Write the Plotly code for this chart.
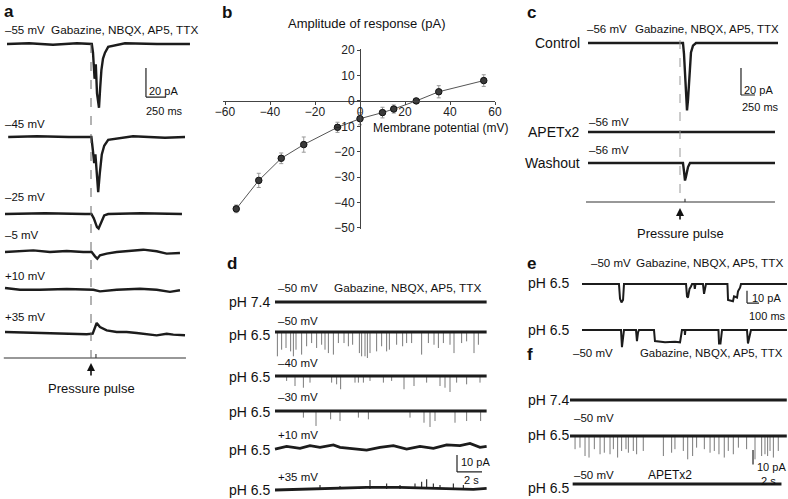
import plotly.graph_objects as go

W, H = 788, 499
FONT = "Arial, 'Liberation Sans', Helvetica, sans-serif"

# ---------------- Panel b : I-V relation ----------------
iv_potential = [-55, -45, -35, -25, -10, 0, 10, 15, 25, 35, 55]
iv_amplitude = [-42.5, -31.3, -22.6, -17.2, -10.4, -7.0, -4.6, -3.2, 0.0, 3.6, 8.0]
iv_sem = [1.5, 2.8, 2.1, 3.0, 2.0, 2.4, 2.1, 1.6, 0.6, 2.4, 2.3]
iv_xticks = [-60, -40, -20, 0, 20, 40, 60]
iv_yticks = [20, 10, 0, -10, -20, -30, -40, -50]

# ---------------- Panel a : responses (t in ms, I in pA) ----------------
a_labels = ["–55 mV", "–45 mV", "–25 mV", "–5 mV", "+10 mV", "+35 mV"]
a1_t = [25, 300, 600, 900, 1085, 1100, 1120, 1135, 1150, 1175, 1190, 1205, 1225, 1250, 1290, 1500, 1900, 2312]
a1_i = [0, 0.5, -0.5, 0.5, 0, -6, -24, -14, -34, -44, -30, -18, -10, -6, -2, 0.5, 0, 0]
a2_t = [40, 400, 800, 1080, 1100, 1115, 1130, 1150, 1165, 1185, 1210, 1240, 1290, 1600, 2000, 2250]
a2_i = [0, 0.5, 0, 0, -10, -18, -12, -28, -38, -25, -12, -6, -2, 0.5, -0.5, 0]
a3_t = [0, 500, 1000, 1080, 1110, 1150, 1170, 1210, 1240, 1290, 1700, 2212]
a3_i = [0, 0.5, 0, 0, -3, -9, -10, -5, -1, 0, 0.5, 0]
a4_t = [0, 187, 354, 562, 771, 979, 1083, 1125, 1154, 1187, 1271, 1396, 1604, 1729, 1896, 2021, 2187]
a4_i = [0, 0.5, 1.1, 0, 0.7, 0, 0, -3, -4.6, -2.3, -1.1, 0, 1.1, 1.6, 0.5, -1.1, -0.7]
a5_t = [0, 187, 437, 771, 1104, 1187, 1396, 1687, 1896, 2062, 2187]
a5_i = [0.7, -0.5, -0.5, 0, -0.5, -1.6, -0.5, 0.2, -0.5, -2, -0.9]
a6_t = [0, 354, 771, 1021, 1096, 1146, 1187, 1271, 1396, 1521, 1646, 1771, 1896, 2021, 2104, 2250]
a6_i = [0.7, 0, -0.5, -0.9, -0.5, 6.9, 4.1, 1.8, 0.7, 0.7, 0, -0.9, -1.6, -0.5, -1.1, -1.6]
a_pulse_ms = 1075
a_stim_ms = 1137
a_stim_end_ms = 2262

# ---------------- Panel c ----------------
c_labels = ["Control", "APETx2", "Washout"]
c1_t = [0, 1696, 1714, 1732, 1750, 1768, 1786, 1804, 1821, 1839, 1875, 1929, 3393]
c1_i = [0, 0, -8, -20, -35, -50, -42, -28, -15, -7, -2, 0, 0]
c2_t = [0, 3339]
c2_i = [0, 0]
c3_t = [0, 1696, 1714, 1732, 1750, 1786, 1821, 3339]
c3_i = [0, 0, -6, -13, -10, -3, 0, 0]
c_pulse_ms = 1643
c_stim_ms = 1732
c_stim_end_ms = 3339

# ---------------- Panel d (t in s, I in pA) ----------------
d_voltages = ["–50 mV", "–50 mV", "–40 mV", "–30 mV", "+10 mV", "+35 mV"]
d_ph = ["pH 7.4", "pH 6.5", "pH 6.5", "pH 6.5", "pH 6.5", "pH 6.5"]
d_end_s = 16.93
d2_spike_s = [0.19, 0.53, 0.88, 1.25, 1.47, 1.68, 2.13, 2.53, 2.93, 3.33, 3.73, 4.0, 4.27, 4.67,
              5.07, 5.52, 5.87, 6.21, 6.75, 6.93, 7.2, 7.39, 7.6, 8.13, 8.53, 8.93, 9.15, 9.73,
              10.21, 10.53, 10.93, 11.73, 12.27, 12.72, 13.07, 13.47, 14.0, 14.32, 14.93, 15.33,
              15.92, 16.27]
d2_spike_pa = [14.3, 10.4, 9.4, 11.4, 14.3, 10.4, 13.3, 8.4, 6.5, 9.4, 7.5, 10.4, 12.4, 13.3,
               6.5, 6.5, 8.4, 7.5, 12.4, 14.3, 14.3, 15.3, 12.4, 11.4, 8.4, 11.4, 10.4, 7.5,
               8.4, 6.5, 6.5, 13.3, 6.5, 7.5, 9.4, 6.5, 7.5, 12.4, 6.5, 5.5, 12.4, 7.5]
d3_spike_s = [0.93, 1.6, 2.27, 2.8, 4.53, 4.93, 5.25, 6.4, 6.67, 7.07, 7.6, 8.67, 9.33, 10.32,
              11.12, 12.13, 13.2, 13.6, 14.0, 14.53, 15.33, 16.4]
d3_spike_pa = [2.9, 5.9, 6.9, 3.9, 3.9, 4.9, 7.8, 3.9, 3.9, 3.9, 2.9, 3.9, 2.9, 7.8, 5.9, 3.9,
               5.9, 6.9, 9.4, 3.9, 4.9, 3.9]
d4_spike_s = [2.27, 3.28, 4.45, 5.2, 6.67, 7.47, 10.8, 11.92, 12.4, 12.8, 14.4, 15.33, 16.45]
d4_spike_pa = [3.9, 8.8, 4.9, 5.9, 3.9, 4.9, 3.9, 6.9, 9.4, 5.9, 6.9, 5.9, 5.9]
d5_t = [0, 0.93, 2.0, 2.8, 3.6, 4.67, 5.2, 6.27, 7.33, 8.4, 9.47, 10.53, 11.6, 12.67, 13.73,
        14.8, 15.6, 16.4, 16.93]
d5_i = [-0.6, 1.0, -0.2, 1.4, 0.4, 1.8, 0.4, -0.2, -1.2, 0.4, 1.4, -0.6, 1.0, -0.2, 1.8, 1.4,
        2.7, 0.4, 1.0]
d6_t = [0, 4.67, 7.33, 10.0, 12.67, 15.87, 16.93]
d6_i = [-0.6, 0.4, 1.0, 1.0, 0.4, -0.2, 0.4]
d6_event_s = [3.6, 5.2, 7.6, 8.93, 10.0, 11.2, 11.73, 12.13, 12.67, 13.2, 14.27, 15.07]
d6_event_pa = [2.4, 1.8, 5.3, 3.3, 2.4, 3.3, 4.3, 5.7, 3.3, 2.4, 3.3, 2.4]

# ---------------- Panel e (t in ms) ----------------
e1_t = [0, 308, 317, 329, 342, 350, 867, 875, 883, 896, 908, 917, 935, 940, 946, 1008, 1017,
        1025, 1033, 1212, 1217, 1258, 1267, 1292, 1300, 1317, 1325, 1708]
e1_i = [0, 0, -12, -15, -13, 0, 0, -10, -11, -4, -2, 0, 0, -4, 0, 0, -8, -3, 0, 0, -13, -14,
        -10, -11, -6, -3, 0, 0]
e2_t = [0, 325, 333, 342, 350, 450, 458, 467, 475, 600, 608, 692, 775, 817, 825, 833, 855, 858,
        862, 1137, 1142, 1154, 1167, 1375, 1383, 1396, 1408, 1708]
e2_i = [0, 0, -14, -8, 0, 0, -9, -2, 0, 0, -9, -10, -9.5, -10, -2, 0, 0, -4, 0, 0, -11, -11, 0,
        0, -11, -6, 0, 0]

# ---------------- Panel f (t in s) ----------------
f_end_s = 16.3
f2_spike_s = [0.38, 0.75, 1.13, 1.43, 1.83, 2.26, 2.58, 3.01, 3.26, 3.58, 3.88, 4.21, 4.39, 4.76,
              5.01, 5.51, 7.02, 7.64, 7.89, 8.52, 8.85, 9.22, 9.52, 10.1, 10.53, 10.85, 11.2,
              11.6, 11.9, 12.28, 12.66, 13.28, 13.91, 14.41, 14.66, 14.86, 15.04, 15.29, 15.66]
f2_spike_pa = [6.0, 5.3, 9.1, 9.8, 6.0, 8.3, 7.6, 8.3, 6.0, 9.8, 6.8, 6.0, 7.6, 6.8, 8.3, 6.8,
               9.1, 7.6, 6.0, 6.8, 10.6, 9.1, 5.3, 6.0, 7.6, 6.8, 8.3, 9.8, 6.8, 8.3, 5.3, 6.0,
               10.6, 9.1, 8.3, 9.1, 6.8, 9.8, 6.8]

DRUGS = "Gabazine, NBQX, AP5, TTX"

# ======================================================================
fig = go.Figure()
layout = {}
shapes = []
annotations = []
n_axes = [1]

TRACE_COLOR = "#1c1c1c"
SPIKE_COLOR = "#7a7a7a"


def px(x):
    return min(max(x / W, 0.0), 1.0)


def py(y):
    return min(max(1 - y / H, 0.0), 1.0)


def new_axes(origin, ppt, t_range, ybase, ppu, lo, hi):
    """A hidden axis pair: t=0 at x-pixel `origin`, I=0 at y-pixel `ybase`."""
    n_axes[0] += 1
    n = n_axes[0]
    t0, t1 = t_range
    t0 = max(t0, -origin / ppt)
    t1 = min(t1, (W - origin) / ppt)
    lo = max(lo, -(H - ybase) / ppu)
    hi = min(hi, ybase / ppu)
    x0 = origin + t0 * ppt
    x1 = origin + t1 * ppt
    layout[f"xaxis{n}"] = dict(domain=[px(x0), px(x1)], range=[t0, t1], visible=False,
                               anchor=f"y{n}", fixedrange=True)
    layout[f"yaxis{n}"] = dict(domain=[py(ybase - lo * ppu), py(ybase - hi * ppu)],
                               range=[lo, hi], visible=False, anchor=f"x{n}", fixedrange=True)
    return f"x{n}", f"y{n}"


def line(xr, yr, t, i, width=2.6, color=TRACE_COLOR):
    fig.add_trace(go.Scatter(x=t, y=i, xaxis=xr, yaxis=yr, mode="lines",
                             line=dict(color=color, width=width), hoverinfo="skip"))


def spikes(xr, yr, times, amps, sign=-1, color=SPIKE_COLOR, width=1):
    xs, ys = [], []
    for t, a in zip(times, amps):
        xs += [t, t, None]
        ys += [0, sign * a, None]
    fig.add_trace(go.Scatter(x=xs, y=ys, xaxis=xr, yaxis=yr, mode="lines",
                             line=dict(color=color, width=width), hoverinfo="skip"))


def text(x, y, s, size=12, anchor="left", bold=False, color="#111"):
    annotations.append(dict(x=px(x), y=py(y), xref="paper", yref="paper",
                            text=f"<b>{s}</b>" if bold else s, showarrow=False,
                            xanchor=anchor, yanchor="middle", borderpad=0,
                            font=dict(size=size, color=color, family=FONT)))


def scalebar(xr, yr, t0, i0, dt, di):
    st = dict(color="#222", width=1.2)
    shapes.append(dict(type="line", xref=xr, yref=yr, x0=t0, x1=t0, y0=i0, y1=i0 + di, line=st))
    shapes.append(dict(type="line", xref=xr, yref=yr, x0=t0, x1=t0 + dt, y0=i0, y1=i0, line=st))


def pulse_marker(xr, t, ytop, ybot, color, arrow_y0, arrow_y1, label_y):
    shapes.append(dict(type="line", xref=xr, yref="paper", x0=t, x1=t, y0=py(ytop), y1=py(ybot),
                       line=dict(color=color, width=1, dash="dash")))
    annotations.append(dict(x=t, y=py(arrow_y1), xref=xr, yref="paper", ax=0,
                            ay=arrow_y0 - arrow_y1, showarrow=True, arrowhead=2, arrowsize=1,
                            arrowwidth=1.6, arrowcolor="#111", text=""))
    annotations.append(dict(x=t, y=py(label_y), xref=xr, yref="paper", text="Pressure pulse",
                            showarrow=False, xanchor="center", yanchor="middle",
                            font=dict(size=13, color="#111", family=FONT)))


# ---------------- Panel a ----------------
A_ORIGIN, A_PPT, A_PPU = 5, 0.08, 1.45
A_ROWS = [44, 137, 214, 252, 289, 333]
a_data = [(a1_t, a1_i), (a2_t, a2_i), (a3_t, a3_i), (a4_t, a4_i), (a5_t, a5_i), (a6_t, a6_i)]
a_axes = []
for yb, (t, i) in zip(A_ROWS, a_data):
    xr, yr = new_axes(A_ORIGIN, A_PPT, (-40, 2400), yb, A_PPU, -50, 12)
    a_axes.append((xr, yr))
    line(xr, yr, t, i, width=2.4)
# stimulus line
xr, yr = new_axes(A_ORIGIN, A_PPT, (-40, 2400), 358, 4, -2, 2)
line(xr, yr, [-15, a_stim_ms, a_stim_ms, a_stim_ms, a_stim_end_ms], [0, 0, 1, 0, 0],
     width=1.1, color="#333")
pulse_marker(a_axes[0][0], a_pulse_ms, 44, 358, "#666", 377, 363, 388)
scalebar(a_axes[0][0], a_axes[0][1], 1762, -36.6, 250, 20)
text(3, 11, "a", size=17, bold=True)
text(4, 30, a_labels[0], size=11.5)
text(50, 30, DRUGS, size=11.8)
text(148, 91, "20 pA", size=11)
text(145, 111, "250 ms", size=11)
for lab, yl in zip(a_labels[1:], [124, 197, 235, 276, 317]):
    text(4, yl, lab, size=11.5)

# ---------------- Panel b ----------------
fig.add_trace(go.Scatter(
    x=iv_potential, y=iv_amplitude, mode="lines+markers",
    line=dict(color="#555", width=1),
    marker=dict(size=6.5, color="#3a3a3a", line=dict(color="#111", width=1)),
    error_y=dict(type="data", array=iv_sem, color="#999", thickness=1, width=2),
    hoverinfo="skip"))
B_X0PX, B_PPX = 360, 2.25
B_Y0PX, B_PPY = 100.9, 2.54
xr_b = (-61, 60)
yr_b = (-50.5, 20.5)
layout["xaxis"] = dict(domain=[px(B_X0PX + xr_b[0] * B_PPX), px(B_X0PX + xr_b[1] * B_PPX)],
                       range=list(xr_b), anchor="free", position=py(B_Y0PX),
                       showline=True, linecolor="#444", linewidth=1.4, ticks="outside",
                       ticklen=3, tickcolor="#444", tickvals=iv_xticks, showgrid=False,
                       zeroline=False, tickfont=dict(size=12, color="#222", family=FONT),
                       ticklabelstandoff=-4, fixedrange=True)
layout["yaxis"] = dict(domain=[py(B_Y0PX - yr_b[0] * B_PPY), py(B_Y0PX - yr_b[1] * B_PPY)],
                       range=list(yr_b), anchor="free", position=px(B_X0PX),
                       showline=True, linecolor="#444", linewidth=1.4, ticks="outside",
                       ticklen=3, tickcolor="#444", tickvals=iv_yticks, showgrid=False,
                       zeroline=False, tickfont=dict(size=12, color="#222", family=FONT),
                       fixedrange=True)
text(221, 12, "b", size=17, bold=True)
text(367, 23, "Amplitude of response (pA)", size=13, anchor="center")
text(440, 128, "Membrane potential (mV)", size=12, anchor="center")

# ---------------- Panel c ----------------
C_ORIGIN, C_PPT, C_PPU = 588, 0.056, 1.35
C_ROWS = [43, 132, 163]
c_axes = []
for yb, (t, i) in zip(C_ROWS, [(c1_t, c1_i), (c2_t, c2_i), (c3_t, c3_i)]):
    xr, yr = new_axes(C_ORIGIN, C_PPT, (-60, 3420), yb, C_PPU, -55, 10)
    c_axes.append((xr, yr))
    line(xr, yr, t, i, width=2.4)
xr, yr = new_axes(C_ORIGIN, C_PPT, (-60, 3420), 202, 4, -2, 2)
line(xr, yr, [-36, c_stim_ms, c_stim_ms, c_stim_ms, c_stim_end_ms], [0, 0, 0.8, 0, 0],
     width=1.1, color="#333")
pulse_marker(c_axes[0][0], c_pulse_ms, 40, 202, "#999", 221, 208, 233)
scalebar(c_axes[0][0], c_axes[0][1], 2732, -38.5, 250, 20)
text(526, 12, "c", size=17, bold=True)
text(586, 29, "–56 mV", size=11.5)
text(634, 29, DRUGS, size=11.5)
text(581, 43, "Control", size=14, anchor="right")
text(743, 90, "20 pA", size=11)
text(741, 107, "250 ms", size=11)
text(588, 122, "–56 mV", size=11.5)
text(581, 132, "APETx2", size=14, anchor="right")
text(588, 150, "–56 mV", size=11.5)
text(581, 163, "Washout", size=14, anchor="right")

# ---------------- Panel d ----------------
D_ORIGIN, D_PPT, D_PPU = 275, 12.5, 1.7
D_ROWS = [302, 332, 376, 411, 448, 489]
d_axes = [new_axes(D_ORIGIN, D_PPT, (-0.2, 17.2), yb, D_PPU, -18, 8) for yb in D_ROWS]
line(*d_axes[0], [0, d_end_s], [0, 0], width=2.8)
spikes(*d_axes[1], d2_spike_s, d2_spike_pa)
line(*d_axes[1], [0, d_end_s], [0, 0], width=2.8)
spikes(*d_axes[2], d3_spike_s, d3_spike_pa)
line(*d_axes[2], [0, d_end_s], [0, 0], width=2.8)
spikes(*d_axes[3], d4_spike_s, d4_spike_pa)
line(*d_axes[3], [0, d_end_s], [0, 0], width=2.8)
line(*d_axes[4], d5_t, d5_i, width=2.8)
spikes(*d_axes[5], d6_event_s, d6_event_pa, sign=1, color="#333", width=1.2)
line(*d_axes[5], d6_t, d6_i, width=2.8)
scalebar(*d_axes[4], 14.56, -14.1, 2, 10)
text(226, 263, "d", size=17, bold=True)
text(333, 288, DRUGS, size=11.8)
for v, ph, yv, yp in zip(d_voltages, d_ph, [288, 321, 363, 397, 435, 477],
                         [302, 335, 377, 412, 450, 490]):
    text(277, yv, v, size=11.5)
    text(271, yp, ph, size=14, anchor="right")
text(460, 462, "10 pA", size=11)
text(463, 480, "2 s", size=11)

# ---------------- Panel e ----------------
E_ORIGIN, E_PPT, E_PPU = 582, 0.12, 1.23
E_ROWS = [284, 330]
e_axes = [new_axes(E_ORIGIN, E_PPT, (-10, 1712), yb, E_PPU, -20, 8) for yb in E_ROWS]
line(*e_axes[0], e1_t, e1_i, width=2)
line(*e_axes[1], e2_t, e2_i, width=2)
scalebar(*e_axes[0], 1375, -15.5, 100, 10)
text(526, 263, "e", size=17, bold=True)
text(590, 263, "–50 mV", size=11.5)
text(635, 263, DRUGS, size=11.8)
text(527, 283, "pH 6.5", size=14)
text(527, 330, "pH 6.5", size=14)
text(751, 298, "10 pA", size=11)
text(748, 316, "100 ms", size=11)

# ---------------- Panel f ----------------
F_ORIGIN, F_PPT, F_PPU = 570, 13.3, 2.2
F_ROWS = [400, 436, 484]
f_axes = [new_axes(F_ORIGIN, F_PPT, (-0.2, 16.4), yb, F_PPU, -13, 5) for yb in F_ROWS]
line(*f_axes[0], [0, f_end_s], [0, 0], width=2.8)
spikes(*f_axes[1], f2_spike_s, f2_spike_pa)
line(*f_axes[1], [0, f_end_s], [0, 0], width=2.8)
line(*f_axes[2], [0.2, 15.9], [0, 0], width=2.8)
scalebar(*f_axes[1], 13.76, -16.4, 2, 10)
text(526, 354, "f", size=17, bold=True)
text(572, 353, "–50 mV", size=11.5)
text(639, 353, DRUGS, size=11.4)
text(527, 400, "pH 7.4", size=14)
text(573, 418, "–50 mV", size=11.5)
text(527, 435, "pH 6.5", size=14)
text(756, 467, "10 pA", size=11)
text(760, 481, "2 s", size=11)
text(573, 475, "–50 mV", size=11.5)
text(647, 475, "APETx2", size=12)
text(527, 488, "pH 6.5", size=14)

fig.update_layout(
    width=W, height=H, margin=dict(l=0, r=0, t=0, b=0),
    paper_bgcolor="white", plot_bgcolor="rgba(0,0,0,0)",
    showlegend=False, template="none",
    font=dict(family=FONT, color="#111"),
    shapes=shapes, annotations=annotations,
    **layout)

fig.write_html(
    "out.html",
    config={"displayModeBar": False, "staticPlot": True},
    post_script="document.body.style.margin='0';document.body.style.padding='0';"
                "document.documentElement.style.margin='0';",
)
